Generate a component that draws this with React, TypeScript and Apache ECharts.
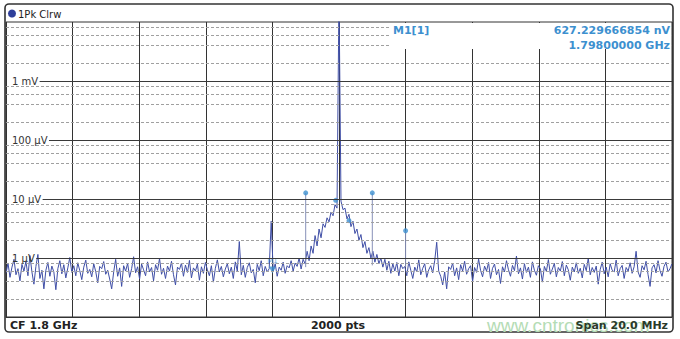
import React, { useEffect, useRef } from "react";
import * as echarts from "echarts";

// Frequency span (MHz): CF 1.8 GHz, span 20 MHz
const FREQ_MIN = 1790;
const FREQ_MAX = 1810;
const FREQ_TICKS_STEP = 2;

// Trace level in µV (sweep decimated)
const traceUV = [
  0.55, 0.82, 0.47, 0.7, 0.95, 0.52, 0.66, 0.41, 0.78, 0.6,
  0.88, 0.5, 1.1, 0.58, 0.36, 0.72, 1.15, 0.45, 0.62, 0.3,
  0.62, 0.84, 0.49, 0.73, 0.58, 0.29, 0.66, 0.9, 0.54, 0.77,
  0.46, 0.68, 1.02, 0.57, 0.74, 0.5, 0.83, 0.61, 0.43, 0.7,
  0.92, 0.55, 0.64, 0.48, 0.8, 0.59, 0.38, 0.72, 0.66, 0.87,
  0.53, 0.62, 0.44, 0.3, 0.58, 0.95, 0.49, 0.68, 0.33, 0.74,
  0.6, 0.81, 0.47, 0.66, 1.05, 0.56, 0.71, 0.44, 0.79, 0.63,
  0.5, 0.86, 0.58, 0.69, 0.41, 0.77, 0.62, 0.98, 0.53, 0.67,
  0.45, 0.73, 0.6, 0.88, 0.52, 0.35, 0.7, 0.64, 0.82, 0.49,
  0.76, 0.57, 0.91, 0.46, 0.68, 0.6, 0.79, 0.42, 0.71, 0.55,
  0.84, 0.63, 0.5, 0.74, 0.39, 0.67, 0.93, 0.58, 0.72, 0.48,
  0.65, 0.8, 0.54, 0.7, 0.45, 0.86, 0.6, 1.9, 0.52, 0.75,
  0.47, 0.69, 0.83, 0.56, 0.64, 0.38, 0.78, 0.61, 0.9, 0.5,
  0.72, 0.58, 0.66, 4.2, 0.6, 0.8, 0.49, 0.7, 0.62, 0.85,
  0.55, 0.74, 0.68, 0.9, 0.6, 0.82, 0.72, 1.0, 0.65, 0.95,
  0.8, 1.3, 0.9, 1.6, 1.2, 2.4, 1.6, 3.1, 2.2, 3.8,
  3.3, 4.8, 4.1, 6.0, 5.2, 8.0, 7.0, 30000, 9.2, 6.6,
  7.0, 4.6, 5.5, 3.4, 4.2, 2.6, 3.1, 2.0, 2.5, 1.5,
  1.9, 1.2, 1.5, 1.0, 1.3, 0.85, 1.15, 0.8, 1.0, 0.7,
  0.95, 0.62, 0.88, 0.55, 0.8, 0.6, 0.84, 0.5, 0.78, 0.66,
  0.72, 0.5, 0.86, 0.62, 0.45, 0.7, 0.58, 0.93, 0.52, 0.67,
  0.8, 0.47, 0.63, 0.74, 0.56, 0.9, 1.85, 0.6, 0.49, 0.35,
  0.58, 0.3, 0.71, 0.64, 0.82, 0.5, 0.68, 0.43, 0.77, 0.6,
  0.88, 0.53, 0.66, 0.74, 0.4, 0.69, 0.57, 0.96, 0.62, 0.48,
  0.73, 0.6, 0.84, 0.45, 0.67, 0.79, 0.52, 0.64, 0.37, 0.71,
  0.58, 0.9, 0.63, 0.49, 0.75, 0.61, 1.08, 0.54, 0.68, 0.44,
  0.8, 0.57, 0.7, 0.47, 0.86, 0.62, 0.51, 0.74, 0.66, 0.39,
  0.72, 0.59, 0.94, 0.53, 0.65, 0.81, 0.48, 0.69, 0.6, 0.87,
  0.5, 0.76, 0.63, 0.42, 0.7, 0.58, 0.83, 0.55, 0.67, 0.46,
  0.78, 0.61, 0.99, 0.52, 0.69, 0.57, 0.73, 0.36, 0.64, 0.85,
  0.54, 0.7, 0.48, 0.8, 0.62, 0.58, 0.92, 0.5, 0.66, 0.75,
  0.45, 0.69, 0.6, 0.83, 0.55, 0.71, 1.3, 0.58, 0.47, 0.74,
  0.63, 0.88, 0.52, 0.33, 0.68, 0.77, 0.56, 0.9, 0.61, 0.49,
  0.72, 0.85, 0.58, 0.66, 0.8,
];

// Marker dots (MHz, µV)
const dotFreqs = [1799, 1799.9, 1800.3, 1801, 1802];
const dotValues = [12.7, 9.5, 4.3, 12.7, 2.9];

// Spur stems (MHz, base µV, top µV)
const stemFreqs = [1799, 1801, 1802];
const stemBase = [0.7, 0.75, 0.7];
const stemTop = [12.7, 12.7, 2.9];

// Marker M1
const m1Freq = 1798;
const m1Value = 0.627229666854;

// Y axis (µV)
const Y_MIN = 0.1;
const Y_MAX = 10000;
const decadeValues = [1000, 100, 10, 1];
const decadeTexts = ["1 mV", "100 µV", "10 µV", "1 µV"];
const minorDecades = [0.1, 1, 10, 100, 1000];
const minorMultipliers = [2, 4, 6, 8];

const headerText = "1Pk Clrw";
const markerName = "M1[1]";
const markerLevel = "627.229666854 nV";
const markerFreq = "1.79800000 GHz";
const footerLeft = "CF 1.8 GHz";
const footerMid = "2000 pts";
const footerRight = "Span 20.0 MHz";
const watermark = "www.cntronics.com";

const FONT = "DejaVu Sans";
const TRACE = "#3f4ea6";
const MARK = "#3d90cf";
const GRID_LEFT = 6;
const GRID_RIGHT = 8;
const CHART_W = 680;
const LABEL_LEFT = 12;

export default function App() {
  const ref = useRef<HTMLDivElement>(null);

  useEffect(() => {
    if (!ref.current) return;
    const chart = echarts.init(ref.current, undefined, { renderer: "svg" });

    const traceData = traceUV.map((v, i) => [
      FREQ_MIN + (i * (FREQ_MAX - FREQ_MIN)) / (traceUV.length - 1),
      v,
    ]);
    const minorLevels: number[] = [];
    minorDecades.forEach((d) => minorMultipliers.forEach((m) => minorLevels.push(d * m)));

    // measure label widths so each decade line starts right after its label
    const ctx = document.createElement("canvas").getContext("2d");
    const labelFont = `10px "${FONT}"`;
    const plotW = CHART_W - GRID_LEFT - GRID_RIGHT;
    const decadeLines = decadeValues.map((v, i) => {
      let w = 26;
      if (ctx) {
        ctx.font = labelFont;
        w = ctx.measureText(decadeTexts[i]).width;
      }
      const startPx = LABEL_LEFT + w + 1.5;
      const startF = FREQ_MIN + ((startPx - GRID_LEFT) / plotW) * (FREQ_MAX - FREQ_MIN);
      return [
        {
          coord: [startF, v],
          label: {
            show: true,
            position: "start",
            distance: 1.5,
            formatter: decadeTexts[i],
            color: "#333",
            fontSize: 10,
            fontFamily: FONT,
          },
        },
        { coord: [FREQ_MAX, v] },
      ];
    });

    const stemSeries = stemFreqs.map((f, i) => ({
      type: "line",
      data: [
        [f, stemBase[i]],
        [f, stemTop[i]],
      ],
      showSymbol: false,
      symbol: "none",
      lineStyle: { color: "#8790b8", width: 1 },
      z: 3,
      silent: true,
    }));

    chart.setOption({
      animation: false,
      grid: { left: GRID_LEFT, right: GRID_RIGHT, top: 22, bottom: 22, show: true, borderColor: "#333", borderWidth: 1 },
      xAxis: {
        type: "value",
        min: FREQ_MIN,
        max: FREQ_MAX,
        interval: FREQ_TICKS_STEP,
        axisLabel: { show: false },
        axisTick: { show: false },
        axisLine: { show: true, lineStyle: { color: "#333" } },
        splitLine: { show: true, lineStyle: { color: "#333", width: 1 } },
      },
      yAxis: {
        type: "log",
        logBase: 10,
        min: Y_MIN,
        max: Y_MAX,
        axisLine: { show: false },
        axisTick: { show: false },
        axisLabel: { show: false },
        splitLine: { show: false },
      },
      series: [
        {
          type: "line",
          data: [[FREQ_MIN, 1]],
          showSymbol: false,
          lineStyle: { opacity: 0 },
          z: 1,
          silent: true,
          markLine: {
            silent: true,
            symbol: "none",
            label: { show: false },
            lineStyle: { color: "#a0a0a0", type: [3, 2], width: 1 },
            data: minorLevels.map((y) => ({ yAxis: y })),
          },
        },
        {
          type: "line",
          data: [[FREQ_MIN, 1]],
          showSymbol: false,
          lineStyle: { opacity: 0 },
          z: 1,
          silent: true,
          markLine: {
            silent: true,
            symbol: "none",
            lineStyle: { color: "#3a3a3a", type: "solid", width: 1 },
            data: decadeLines,
          },
        },
        {
          type: "line",
          data: traceData,
          showSymbol: false,
          symbol: "none",
          lineStyle: { color: TRACE, width: 1 },
          z: 2,
          silent: true,
        },
        ...stemSeries,
        {
          type: "scatter",
          data: dotFreqs.map((f, i) => [f, dotValues[i]]),
          symbol: "circle",
          symbolSize: 5,
          itemStyle: { color: MARK },
          z: 4,
          silent: true,
        },
        {
          type: "scatter",
          data: [[m1Freq, m1Value]],
          symbol: "triangle",
          symbolRotate: 180,
          symbolSize: 7,
          itemStyle: { color: MARK },
          label: { show: true, formatter: "M1", position: "top", distance: 2, fontSize: 7, color: MARK, fontFamily: FONT },
          z: 4,
          silent: true,
        },
      ],
      graphic: [
        {
          type: "rect",
          shape: { x: 5, y: 4, width: 668, height: 328, r: 4 },
          style: { fill: "none", stroke: "#333", lineWidth: 1.6 },
          z: 50,
          silent: true,
        },
        {
          type: "rect",
          shape: { x: 391, y: 23, width: 280, height: 26 },
          style: { fill: "#fff" },
          z: 60,
          silent: true,
        },
        { type: "circle", shape: { cx: 12, cy: 13.5, r: 4 }, style: { fill: "#2f3f9a" }, z: 61 },
        {
          type: "text",
          x: 18,
          y: 14,
          style: { text: headerText, font: `10px "${FONT}"`, fill: "#222", verticalAlign: "middle" },
          z: 61,
        },
        {
          type: "text",
          x: 393,
          y: 30,
          style: { text: markerName, font: `bold 11px "${FONT}"`, fill: MARK, verticalAlign: "middle" },
          z: 61,
        },
        {
          type: "text",
          x: 670,
          y: 30,
          style: { text: markerLevel, font: `bold 11px "${FONT}"`, fill: MARK, align: "right", verticalAlign: "middle" },
          z: 61,
        },
        {
          type: "text",
          x: 670,
          y: 45,
          style: { text: markerFreq, font: `bold 11px "${FONT}"`, fill: MARK, align: "right", verticalAlign: "middle" },
          z: 61,
        },
        {
          type: "text",
          x: 487,
          y: 325,
          style: { text: watermark, font: `19px "Liberation Sans"`, fill: "#b5dcb5", verticalAlign: "middle" },
          z: 55,
        },
        {
          type: "text",
          x: 10,
          y: 325,
          style: { text: footerLeft, font: `bold 11px "${FONT}"`, fill: "#222", verticalAlign: "middle" },
          z: 61,
        },
        {
          type: "text",
          x: 338,
          y: 325,
          style: { text: footerMid, font: `bold 11px "${FONT}"`, fill: "#222", align: "center", verticalAlign: "middle" },
          z: 61,
        },
        {
          type: "text",
          x: 668,
          y: 325,
          style: { text: footerRight, font: `bold 11px "${FONT}"`, fill: "#2a3a2a", align: "right", verticalAlign: "middle" },
          z: 61,
        },
      ],
    });

    return () => chart.dispose();
  }, []);

  return (
    <div
      ref={ref}
      style={{ position: "fixed", left: 0, top: 0, width: CHART_W, height: 339, background: "#fff" }}
    />
  );
}
